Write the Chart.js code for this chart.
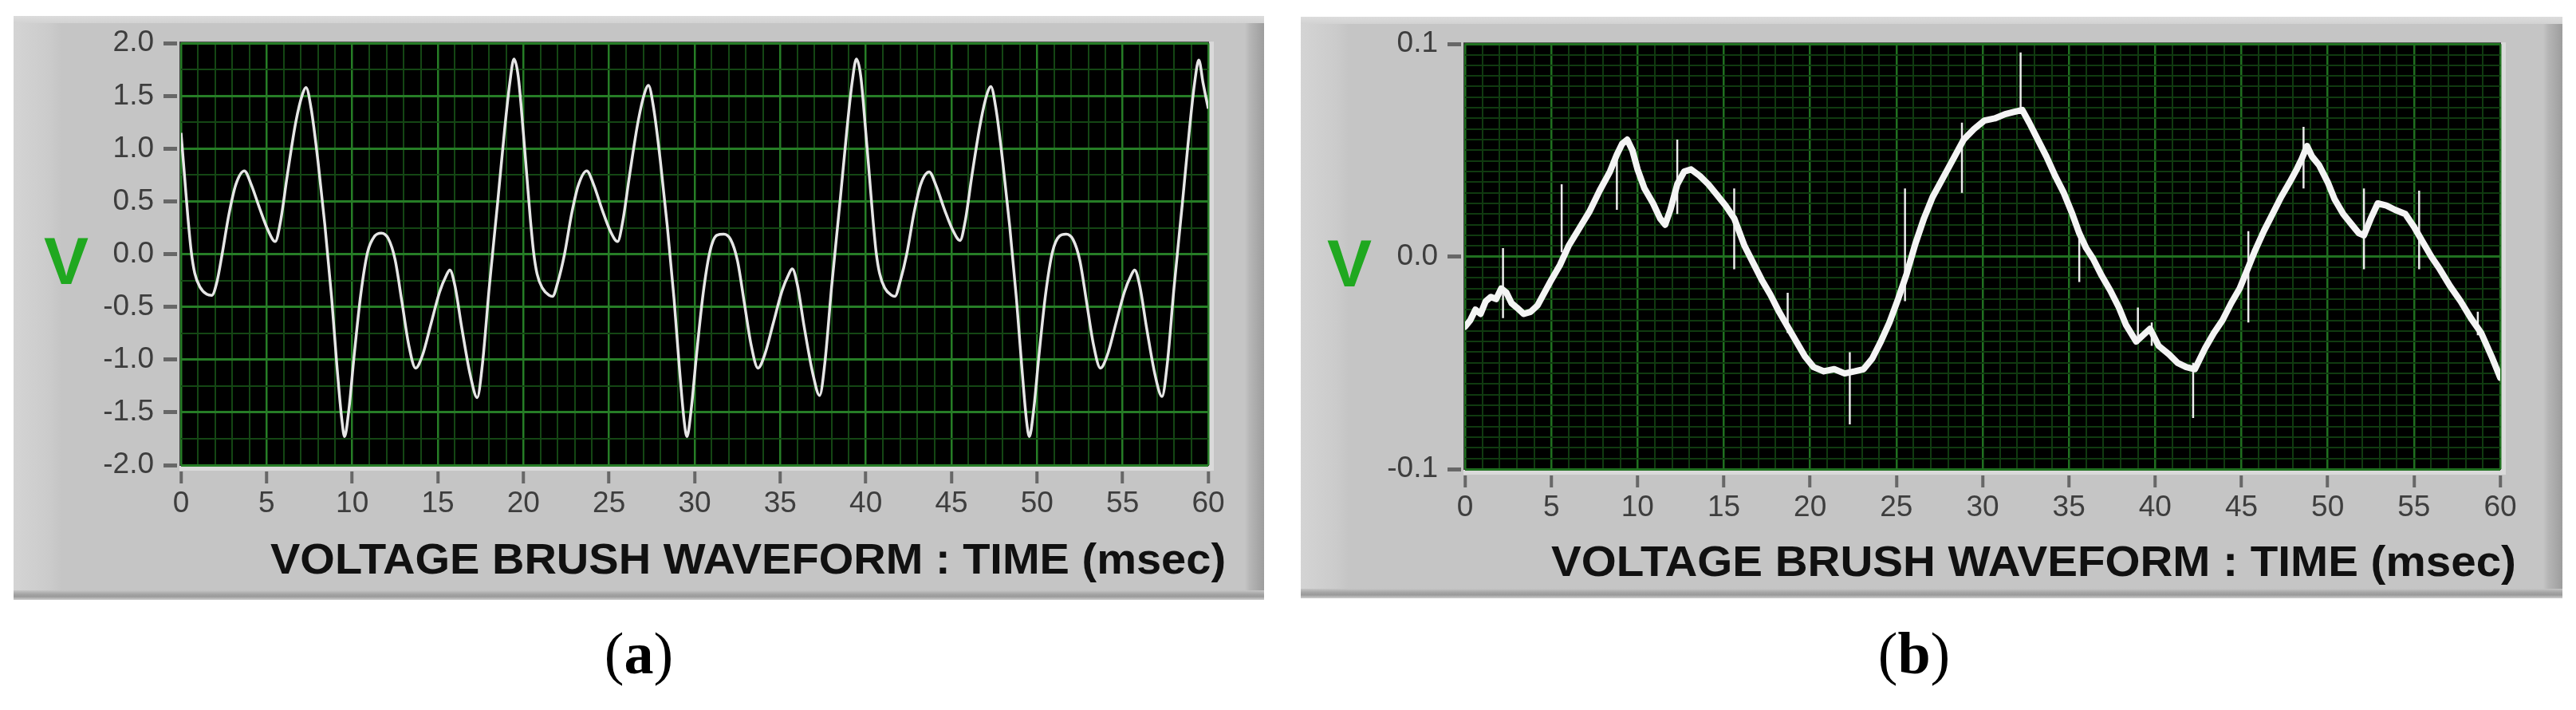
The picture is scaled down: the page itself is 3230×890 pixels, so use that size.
<!DOCTYPE html>
<html>
<head>
<meta charset="utf-8">
<script src="https://cdn.jsdelivr.net/npm/chart.js@4.4.1/dist/chart.umd.min.js"></script>
<style>
  html, body { margin: 0; padding: 0; background: #fff; }
  #page { position: relative; width: 3230px; height: 890px; overflow: hidden; background: #fff; }
  .panel {
    position: absolute;
    background: linear-gradient(to right, #d4d4d4 0px, #cbcbcb 45px, #c5c5c5 60px, #c5c5c5 calc(100% - 24px), #b6b6b6 calc(100% - 18px), #9d9d9d 100%);
  }
  .panel::before {
    content: ""; position: absolute; left: 0; right: 0; top: 0; height: 9px;
    background: linear-gradient(to bottom, #dcdcdc 0, #d2d2d2 100%);
  }
  .panel::after {
    content: ""; position: absolute; left: 0; right: 0; bottom: 0; height: 12px;
    background: linear-gradient(to bottom, #c5c5c5 0, #a4a4a4 40%, #9a9a9a 65%, #cfcfcf 100%);
  }
  .panel canvas { position: absolute; left: 0; top: 0; }
  #panelA { left: 17px; top: 20px; width: 1568px; height: 732px; }
  #panelB { left: 1631px; top: 21px; width: 1582px; height: 729px; }
  .unit {
    position: absolute; font: bold 84px "Liberation Sans", Arial, sans-serif; line-height: 1;
    color: #20a820; transform: translate(-50%, -50%);
  }
  .xtitle {
    position: absolute; font: bold 53px "Liberation Sans", Arial, sans-serif; line-height: 1;
    color: #111; white-space: nowrap; transform-origin: left center;
  }
  .caption {
    position: absolute; width: 200px; text-align: center;
    font: 74px "Liberation Serif", "DejaVu Serif", serif; line-height: 1; color: #000;
  }
</style>
</head>
<body>
<div id="page">
  <div class="panel" id="panelA"><canvas id="chartA" width="1568" height="732"></canvas></div>
  <div class="panel" id="panelB"><canvas id="chartB" width="1582" height="729"></canvas></div>
  <span class="unit" style="left:83px; top:327px;">V</span>
  <span class="unit" style="left:1692px; top:330px;">V</span>
  <span class="xtitle" id="titleA" style="left:339px; top:674px;">VOLTAGE BRUSH WAVEFORM : TIME (msec)</span>
  <span class="xtitle" id="titleB" style="left:1945px; top:677px;">VOLTAGE BRUSH WAVEFORM : TIME (msec)</span>
  <div class="caption" style="left:701px; top:782px;">(<b>a</b>)</div>
  <div class="caption" style="left:2300px; top:782px;">(<b>b</b>)</div>
</div>
<script>
// (a) voltage brush waveform, msec / V
const timeA = [
  0.0, 0.2, 0.4, 0.6, 0.8, 1.1, 1.5, 1.8, 2.1, 2.4, 2.8, 3.2, 3.7, 4.1, 4.6, 5.1, 5.5, 5.8, 6.2, 6.7,
  7.1, 7.3, 7.6, 8.0, 8.4, 8.8, 9.1, 9.4, 9.55, 9.8, 10.1, 10.5, 10.9, 11.3, 11.7, 12.1, 12.5, 12.9, 13.3, 13.7,
  14.1, 14.6, 15.1, 15.5, 15.7, 16.0, 16.4, 16.9, 17.3, 17.6, 18.0, 18.5, 18.9, 19.2, 19.45, 19.7,
  20.0, 20.2, 20.4, 20.6, 20.8, 21.1, 21.5, 21.7, 22.0, 22.4, 22.8, 23.2, 23.7, 24.1, 24.6, 25.1, 25.5, 25.8, 26.2, 26.7,
  27.1, 27.3, 27.6, 28.0, 28.4, 28.8, 29.1, 29.4, 29.55, 29.8, 30.1, 30.5, 30.9, 31.3, 31.7, 32.1, 32.5, 32.9, 33.3, 33.7,
  34.1, 34.6, 35.1, 35.5, 35.7, 36.0, 36.4, 36.9, 37.3, 37.6, 38.0, 38.5, 38.9, 39.2, 39.45, 39.7,
  40.0, 40.2, 40.4, 40.6, 40.8, 41.1, 41.5, 41.7, 42.0, 42.4, 42.8, 43.2, 43.7, 44.1, 44.6, 45.1, 45.5, 45.8, 46.2, 46.7,
  47.1, 47.3, 47.6, 48.0, 48.4, 48.8, 49.1, 49.4, 49.55, 49.8, 50.1, 50.5, 50.9, 51.3, 51.7, 52.1, 52.5, 52.9, 53.3, 53.7,
  54.1, 54.6, 55.1, 55.5, 55.7, 56.0, 56.4, 56.9, 57.3, 57.6, 58.0, 58.5, 58.9, 59.2, 59.45, 59.7, 60.0
];
const voltA = [
  1.15, 0.75, 0.35, 0.02, -0.18, -0.31, -0.38, -0.39, -0.26, 0.00, 0.38, 0.66, 0.79, 0.66, 0.43, 0.22, 0.12, 0.30, 0.74, 1.25,
  1.52, 1.58, 1.38, 0.88, 0.28, -0.42, -1.05, -1.58, -1.73, -1.48, -0.98, -0.38, 0.02, 0.17, 0.20, 0.15, -0.05, -0.45, -0.86, -1.08,
  -0.96, -0.66, -0.36, -0.20, -0.15, -0.30, -0.70, -1.15, -1.36, -1.05, -0.32, 0.50, 1.18, 1.62, 1.85, 1.68,
  1.14, 0.74, 0.34, 0.01, -0.19, -0.32, -0.39, -0.40, -0.27, 0.00, 0.37, 0.65, 0.79, 0.66, 0.42, 0.21, 0.12, 0.31, 0.75, 1.26,
  1.54, 1.60, 1.39, 0.88, 0.27, -0.43, -1.06, -1.60, -1.73, -1.47, -0.97, -0.37, 0.03, 0.18, 0.19, 0.14, -0.06, -0.46, -0.86, -1.08,
  -0.95, -0.65, -0.35, -0.19, -0.14, -0.29, -0.69, -1.13, -1.34, -1.04, -0.31, 0.51, 1.19, 1.63, 1.85, 1.69,
  1.15, 0.76, 0.36, 0.02, -0.18, -0.32, -0.39, -0.40, -0.26, 0.01, 0.38, 0.66, 0.78, 0.65, 0.42, 0.22, 0.13, 0.31, 0.75, 1.25,
  1.53, 1.59, 1.38, 0.87, 0.27, -0.43, -1.05, -1.60, -1.73, -1.48, -0.98, -0.38, 0.02, 0.17, 0.19, 0.14, -0.06, -0.46, -0.86, -1.08,
  -0.96, -0.66, -0.36, -0.20, -0.15, -0.30, -0.70, -1.15, -1.35, -1.05, -0.32, 0.50, 1.18, 1.62, 1.84, 1.62, 1.38
];

// (b) voltage brush waveform, msec / V
const timeB = [
  0.0, 0.3, 0.6, 0.9, 1.2, 1.5, 1.8, 2.1, 2.4, 2.7, 3.0, 3.4, 3.8, 4.2, 4.6, 5.0, 5.5, 6.0, 6.6, 7.2,
  7.8, 8.4, 8.8, 9.1, 9.4, 9.7, 10.0, 10.4, 10.9, 11.3, 11.6, 11.9, 12.3, 12.7, 13.1, 13.6, 14.1, 14.6, 15.1, 15.6,
  16.2, 16.7, 17.2, 17.7, 18.2, 18.7, 19.2, 19.7, 20.2, 20.8, 21.4, 22.0, 22.6, 23.1, 23.6, 24.1, 24.6, 25.1, 25.6, 26.1,
  26.6, 27.1, 27.7, 28.3, 28.9, 29.5, 30.1, 30.7, 31.3, 31.8, 32.3, 32.7, 33.2, 33.7, 34.2, 34.7, 35.2, 35.6, 36.0, 36.4,
  36.9, 37.4, 37.9, 38.3, 38.9, 39.3, 39.7, 40.2, 40.8, 41.3, 41.8, 42.3, 42.9, 43.4, 43.9, 44.4, 44.9, 45.4, 45.8, 46.3,
  46.8, 47.3, 47.8, 48.2, 48.5, 48.8, 49.1, 49.5, 50.0, 50.4, 50.9, 51.4, 51.8, 52.1, 52.5, 52.9, 53.4, 53.9, 54.5, 55.0,
  55.5, 56.0, 56.5, 57.1, 57.7, 58.3, 58.9, 59.5, 60.0
];
const voltB = [
  -0.033, -0.030, -0.025, -0.027, -0.021, -0.019, -0.020, -0.015, -0.017, -0.022, -0.024, -0.027, -0.026, -0.023, -0.017, -0.011, -0.004, 0.005, 0.013, 0.021,
  0.031, 0.040, 0.048, 0.053, 0.055, 0.050, 0.041, 0.032, 0.025, 0.018, 0.015, 0.022, 0.034, 0.040, 0.041, 0.038, 0.034, 0.029, 0.024, 0.018,
  0.005, -0.003, -0.011, -0.018, -0.026, -0.033, -0.040, -0.047, -0.052, -0.054, -0.053, -0.055, -0.054, -0.053, -0.048, -0.040, -0.031, -0.020, -0.008, 0.006,
  0.018, 0.028, 0.037, 0.046, 0.055, 0.060, 0.064, 0.065, 0.067, 0.068, 0.069, 0.063, 0.055, 0.047, 0.038, 0.030, 0.020, 0.011, 0.004, -0.001,
  -0.009, -0.016, -0.024, -0.032, -0.040, -0.037, -0.034, -0.042, -0.046, -0.050, -0.052, -0.053, -0.043, -0.036, -0.030, -0.022, -0.015, -0.005, 0.003, 0.012,
  0.020, 0.028, 0.035, 0.041, 0.046, 0.052, 0.047, 0.043, 0.035, 0.027, 0.020, 0.015, 0.011, 0.010, 0.018, 0.025, 0.024, 0.022, 0.020, 0.014,
  0.007, 0.000, -0.006, -0.014, -0.021, -0.029, -0.036, -0.047, -0.057
];
// short spikes on trace (b)
const spikeTimeB = [2.2, 5.6, 8.8, 12.3, 15.6, 18.7, 22.3, 25.5, 28.8, 32.2, 35.6, 39.0, 39.8, 42.2, 45.4, 48.6, 52.1, 55.3, 58.7];
const spikeLowB  = [-0.029, 0.002, 0.022, 0.020, -0.006, -0.036, -0.079, -0.021, 0.030, 0.070, -0.012, -0.041, -0.042, -0.076, -0.031, 0.032, -0.006, -0.006, -0.037];
const spikeHighB = [0.004, 0.034, 0.050, 0.055, 0.032, -0.017, -0.045, 0.032, 0.063, 0.096, 0.011, -0.024, -0.031, -0.050, 0.012, 0.061, 0.032, 0.031, -0.026];

// labelled ticks
const xLabels = [0, 5, 10, 15, 20, 25, 30, 35, 40, 45, 50, 55, 60];
const yLabelsA = [-2.0, -1.5, -1.0, -0.5, 0.0, 0.5, 1.0, 1.5, 2.0];
const yLabelsB = [-0.1, 0.0, 0.1];

const TICK_FONT = { family: "'Liberation Sans', Arial, sans-serif", size: 37 };
const TICK_COLOR = "#3e3e3e";
const MARK_COLOR = "#676767";

function isLabelled(v, list) {
  return list.some((l) => Math.abs(l - v) < 1e-7);
}

const plotBackground = {
  id: "plotBackground",
  beforeDraw(chart) {
    const { ctx, chartArea: a } = chart;
    ctx.save();
    ctx.fillStyle = "#dadada";
    ctx.fillRect(a.left - 2, a.top - 2, a.right - a.left + 9, a.bottom - a.top + 9);
    ctx.fillStyle = "#3a3a3a";
    ctx.fillRect(a.left - 2, a.top - 2, a.right - a.left + 3, a.bottom - a.top + 3);
    ctx.fillStyle = "#000";
    ctx.fillRect(a.left, a.top, a.right - a.left, a.bottom - a.top);
    ctx.restore();
  }
};

function xScale(height, major, minor) {
  return {
    type: "linear",
    min: 0,
    max: 60,
    afterFit: (s) => { s.height = height; },
    border: { display: false },
    ticks: {
      stepSize: 1,
      autoSkip: false,
      maxRotation: 0,
      padding: 4,
      color: TICK_COLOR,
      font: TICK_FONT,
      callback: (v) => (isLabelled(v, xLabels) ? String(Math.round(v)) : "")
    },
    grid: {
      color: (c) => (isLabelled(c.tick.value, xLabels) ? major : minor),
      lineWidth: (c) => (isLabelled(c.tick.value, xLabels) ? 2.5 : 2),
      tickLength: 23,
      tickWidth: 4,
      tickColor: (c) => (isLabelled(c.tick.value, xLabels) ? MARK_COLOR : "transparent"),
      tickBorderDash: [0, 8, 15, 100]
    }
  };
}

function yScale(width, min, max, step, labels, major, minor) {
  return {
    min: min,
    max: max,
    afterFit: (s) => { s.width = width; },
    border: { display: false },
    ticks: {
      stepSize: step,
      autoSkip: false,
      padding: 12,
      color: TICK_COLOR,
      font: TICK_FONT,
      callback: (v) => {
        if (!isLabelled(v, labels)) return "";
        return Math.abs(v) < 1e-9 ? "0.0" : v.toFixed(1);
      }
    },
    grid: {
      color: (c) => (isLabelled(c.tick.value, labels) ? major : minor),
      lineWidth: (c) => (isLabelled(c.tick.value, labels) ? 3 : 2),
      tickLength: 22,
      tickWidth: 5,
      tickColor: (c) => (isLabelled(c.tick.value, labels) ? MARK_COLOR : "transparent"),
      tickBorderDash: [17, 100]
    }
  };
}

const baseOptions = {
  responsive: false,
  devicePixelRatio: 1,
  animation: false,
  events: [],
  plugins: { legend: { display: false }, tooltip: { enabled: false } }
};

new Chart(document.getElementById("chartA"), {
  type: "line",
  data: {
    datasets: [
      {
        data: timeA.map((t, i) => ({ x: t, y: voltA[i] })),
        borderColor: "#e6e6e6",
        borderWidth: 3.5,
        pointRadius: 0,
        cubicInterpolationMode: "monotone"
      }
    ]
  },
  options: {
    ...baseOptions,
    layout: { padding: { top: 30, right: 70, left: 0, bottom: 0 } },
    scales: {
      x: xScale(169, "rgb(38,125,38)", "rgb(20,70,20)"),
      y: yScale(210, -2, 2, 0.25, yLabelsA, "rgb(38,125,38)", "rgb(20,70,20)")
    }
  },
  plugins: [plotBackground]
});

const spikePoints = [];
spikeTimeB.forEach((t, i) => {
  spikePoints.push({ x: t, y: spikeLowB[i] });
  spikePoints.push({ x: t, y: spikeHighB[i] });
  spikePoints.push({ x: t, y: null });
});

new Chart(document.getElementById("chartB"), {
  type: "line",
  data: {
    datasets: [
      {
        data: timeB.map((t, i) => ({ x: t, y: voltB[i] })),
        borderColor: "#f4f4f4",
        borderWidth: 8,
        borderJoinStyle: "round",
        borderCapStyle: "round",
        pointRadius: 0,
        tension: 0
      },
      {
        data: spikePoints,
        borderColor: "#ececec",
        borderWidth: 2.5,
        pointRadius: 0,
        spanGaps: false
      }
    ]
  },
  options: {
    ...baseOptions,
    layout: { padding: { top: 31, right: 78, left: 0, bottom: 0 } },
    scales: {
      x: xScale(162, "rgb(32,112,32)", "rgb(16,58,16)"),
      y: yScale(206, -0.1, 0.1, 0.005, yLabelsB, "rgb(32,112,32)", "rgb(16,58,16)")
    }
  },
  plugins: [plotBackground]
});

// stretch axis titles to the measured width in the reference
[["titleA", 1198], ["titleB", 1210]].forEach(([id, target]) => {
  const el = document.getElementById(id);
  const w = el.getBoundingClientRect().width;
  if (w > 0) el.style.transform = "scaleX(" + (target / w).toFixed(4) + ")";
});
</script>
</body>
</html>
